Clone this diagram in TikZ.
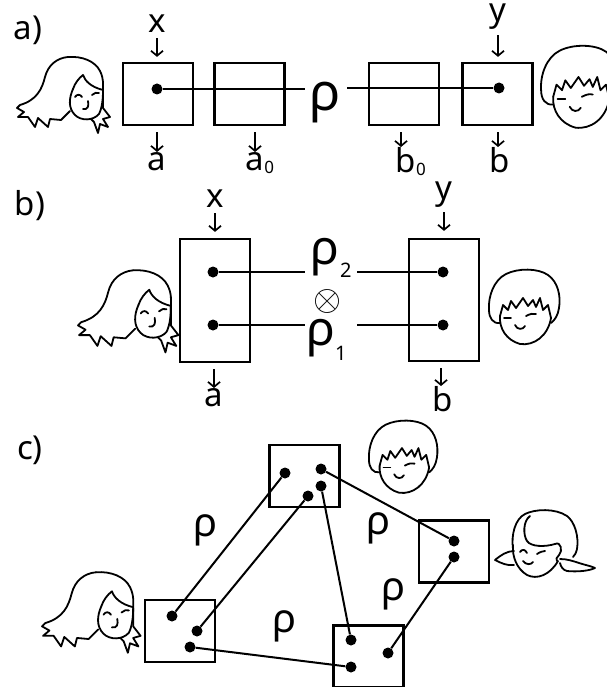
\documentclass[tikz,border=0pt]{standalone}
\usepackage{fontspec}
\newfontfamily\hand{Noto Sans}
\usetikzlibrary{arrows.meta,calc}
\tikzset{
  face/.style={line width=1.8pt, line cap=round, line join=round},
  girlA/.pic={
    \draw[face] (51,4) .. controls (40,5) and (31,12) .. (28,24)
       .. controls (25,36) and (20,47) .. (3,52)
       -- (0,55) -- (7,59) -- (1,64) -- (11,64) -- (18,74) -- (21,65) -- (31,74) -- (33,66) -- (44,67) -- (53,58);
    \draw[face] (51,4) .. controls (65,3) and (78,8) .. (83,18)
       .. controls (87,26) and (86,32) .. (86,38) -- (86,55) -- (93,64) -- (86,66) -- (91,74) -- (83,71) -- (81,80) -- (77,69) -- (74,66);
    \draw[face] (56,36) .. controls (52,45) and (51,55) .. (58,62) .. controls (64,68) and (76,68) .. (82,61) .. controls (85,55) and (86,46) .. (86,38);
    \draw[face] (56,36) .. controls (58,30) and (62,25) .. (66,22) .. controls (68,28) and (74,34) .. (86,37);
    \draw[face] (58,44) .. controls (60,41) and (63,41) .. (65,44);
    \draw[face] (75,42) .. controls (77,40) and (80,39) .. (82,40);
    \draw[face] (71,48) .. controls (72,53) and (71,57) .. (66,56);
  },
  boy/.pic={
    \draw[face] (12,55) .. controls (5,56) and (1,50) .. (1,42) .. controls (0,28) and (6,12) .. (18,6) .. controls (30,0) and (50,0) .. (60,7) .. controls (70,14) and (73,28) .. (71,40) .. controls (70,47) and (67,52) .. (63,55);
    \draw[face] (12,48) .. controls (11,60) and (18,72) .. (32,76) .. controls (46,78) and (60,68) .. (63,50);
    \draw[face] (12,48) -- (15,37) -- (20,42) -- (23,33) -- (28,40) -- (35,30) -- (40,38) -- (45,32) -- (48,39) -- (52,30) -- (55,42) -- (60,37) -- (63,50);
    \draw[face] (16,50) -- (23,50);
    \draw[face] (38,48) .. controls (42,46) and (45,45) .. (48,46);
    \draw[face] (27,57) .. controls (29,62) and (35,62) .. (37,58);
  },
  girlB/.pic={
    \draw[face] (18,44) .. controls (16,30) and (20,14) .. (30,9) .. controls (40,4) and (60,3) .. (72,11) .. controls (80,17) and (84,32) .. (82,44) .. controls (81,48) and (80,50) .. (78,52);
    \draw[face] (35,11) .. controls (28,16) and (28,30) .. (32,36) .. controls (36,42) and (50,42) .. (60,39);
    \draw[face] (60,39) .. controls (66,36) and (68,46) .. (64,50) .. controls (62,53) and (60,54) .. (62,56);
    \draw[face] (18,40) .. controls (17,52) and (22,64) .. (32,70) .. controls (42,75) and (55,70) .. (63,56);
    \draw[face] (19,46) .. controls (12,46) and (6,50) .. (0,55) .. controls (6,58) and (12,61) .. (19,60);
    \draw[face] (65,54) .. controls (72,54) and (78,56) .. (84,58) .. controls (90,60) and (96,61) .. (100,63) .. controls (94,66) and (82,67) .. (72,66) .. controls (68,65) and (66,62) .. (65,58);
    \draw[face] (25,47) .. controls (27,44) and (30,44) .. (32,48);
    \draw[face] (42,49) .. controls (45,47) and (48,46) .. (50,46);
    \draw[face] (28,56) .. controls (31,60) and (36,60) .. (38,57);
  }
}
\begin{document}
\begin{tikzpicture}[x=1pt,y=-1pt,
  box/.style={draw, line width=2.2pt, minimum width=70pt, minimum height=62pt, inner sep=0pt},
  dot/.style={circle, fill, inner sep=0pt, minimum size=11pt},
  wire/.style={line width=2pt},
  arr/.style={line width=1.7pt, -{Straight Barb[length=5pt,width=12pt]}},
  lbl/.style={inner sep=0pt, font=\hand\fontsize{33}{33}\selectfont},
  rho/.style={inner sep=0pt, font=\hand},
]
\useasboundingbox (0,0) rectangle (606,687);

% ---------- a) ----------
\node[lbl] (la) at (28,30) {a)};
\pic at (17,53) {girlA};
\pic[scale=1.1] at (540,44) {boy};
\node[box] (A1) at (158,94) {};
\node[box] (A0) at (249.5,94) {};
\node[box] (B0) at (404,94) {};
\node[box] (B1) at (497.5,94) {};
\node[dot] (da) at (157,89) {};
\node[dot] (db) at (499,88) {};
\node[rho] (rhoa) at (325,103) {\fontsize{52}{52}\selectfont ρ};
\coordinate (gaL) at (305,89);
\coordinate (gaR) at (347,88);
\draw[wire] (da) -- (gaL);
\draw[wire] (gaR) -- (db);
\node[lbl] (xa) at (157,24) {x};
\node[lbl] (ya) at (498,17) {y};
\draw[arr, shorten <=5pt, shorten >=5pt] (xa.south) -- (xa.south |- A1.north);
\draw[arr, shorten <=5pt, shorten >=5pt] (ya.south) -- (ya.south |- B1.north);
\node[lbl, anchor=north] (aa) at (157,152) {a};
\node[lbl, anchor=north] (a0) at (255,152) {a\rlap{\raisebox{-3pt}{\fontsize{17}{17}\selectfont 0}}};
\node[lbl, anchor=north] (b0) at (406,147) {b\rlap{\raisebox{-3pt}{\fontsize{17}{17}\selectfont 0}}};
\node[lbl, anchor=north] (bb) at (500,147) {b};
\draw[arr, shorten <=6pt] (aa.north |- A1.south) -- (aa.north);
\draw[arr, shorten <=6pt] (a0.north |- A0.south) -- (a0.north);
\draw[arr, shorten <=6pt] ($(b0.north |- B0.south)+(-5,0)$) -- ($(b0.north)+(-5,0)$);
\draw[arr, shorten <=6pt] ($(bb.north |- B1.south)+(-2,0)$) -- ($(bb.north)+(-2,0)$);

% ---------- b) ----------
\node[lbl] (lb) at (30,206) {b)};
\pic[scale=1.08] at (78,266) {girlA};
\pic at (488,268) {boy};
\node[box, minimum height=123pt] (L) at (215,300.5) {};
\node[box, minimum height=122pt] (R) at (444,300) {};
\node[dot] (dL2) at (213,272) {};
\node[dot] (dL1) at (213,325) {};
\node[dot] (dR2) at (443,272) {};
\node[dot] (dR1) at (443,325) {};
\coordinate (gL) at (305,0);
\coordinate (gR) at (357,0);
\draw[wire] (dL2) -- (dL2 -| gL);
\draw[wire] (dL1) -- (dL1 -| gL);
\draw[wire] (dR2) -- (dR2 -| gR);
\draw[wire] (dR1) -- (dR1 -| gR);
\node[rho, anchor=base west] (rho2) at (310,264) {\fontsize{48}{48}\selectfont ρ\kern1pt\raisebox{-13pt}{\fontsize{20}{20}\selectfont 2}};
\node[rho, anchor=base west] (rho1) at (306,345) {\fontsize{48}{48}\selectfont ρ\kern0pt\raisebox{-15pt}{\fontsize{20}{20}\selectfont 1}};
\node[rho] (ot) at (327,301) {\scalebox{3.6}{$\otimes$}};
\node[lbl] (xb) at (215,199) {x};
\node[lbl] (yb) at (444,195) {y};
\draw[arr, shorten <=5pt, shorten >=6pt] (xb.south) -- (xb.south |- L.north);
\draw[arr, shorten <=4pt, shorten >=7pt] (yb.south) -- (yb.south |- R.north);
\node[lbl, anchor=north] (ab) at (214,388) {a};
\node[lbl, anchor=north] (bbb) at (443,386) {b};
\draw[arr, shorten <=6pt] (ab.north |- L.south) -- (ab.north);
\draw[arr, shorten <=6pt] ($(bbb.north |- R.south)+(-2,0)$) -- ($(bbb.north)+(-2,0)$);

% ---------- c) ----------
\node[lbl] (lc) at (30,450) {c)};
\pic[scale=1.06] at (42,568) {girlA};
\pic[scale=0.97] at (368,419) {boy};
\pic at (495,505) {girlB};
\node[box] (T) at (304.5,476) {};
\node[box] (Lc) at (180,631) {};
\node[box] (Rc) at (454,551.5) {};
\node[box] (Bc) at (368.5,656.5) {};
\node[dot] (t1) at (285,473) {};
\node[dot] (t2) at (321,469) {};
\node[dot] (t3) at (321,486) {};
\node[dot] (t4) at (308,496) {};
\node[dot] (l1) at (172,616) {};
\node[dot] (l2) at (197,631) {};
\node[dot] (l3) at (190,647) {};
\node[dot] (r1) at (454,541) {};
\node[dot] (r2) at (454,557) {};
\node[dot] (b1) at (351,640) {};
\node[dot] (b2) at (388,653) {};
\node[dot] (b3) at (351,667) {};
\draw[wire] (t1) -- (l1);
\draw[wire] (t4) -- (l2);
\draw[wire] (t2) -- (r1);
\draw[wire] (t3) -- (b1);
\draw[wire] (r2) -- (b2);
\draw[wire] (l3) -- (b3);
\node[rho] (rc1) at (205,530) {\fontsize{40}{40}\selectfont ρ};
\node[rho] (rc2) at (284,626) {\fontsize{40}{40}\selectfont ρ};
\node[rho] (rc3) at (378,528) {\fontsize{40}{40}\selectfont ρ};
\node[rho] (rc4) at (393,594) {\fontsize{40}{40}\selectfont ρ};
\end{tikzpicture}
\end{document}
